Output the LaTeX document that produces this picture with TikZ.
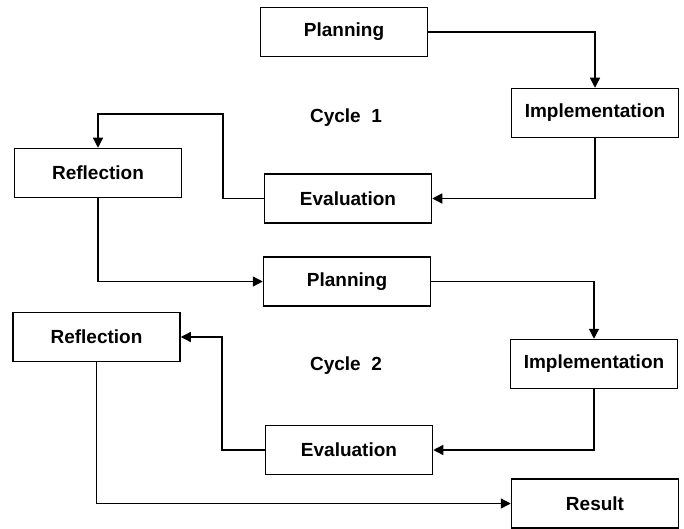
\documentclass[tikz,border=0pt]{standalone}
\usepackage{fontspec}
\setmainfont{Liberation Sans}
\usetikzlibrary{arrows.meta}
\begin{document}
\begin{tikzpicture}[x=1pt,y=-1pt,
  box/.style={draw=black,line width=1.5pt,minimum width=167pt,minimum height=49pt,inner sep=0pt,font=\fontsize{19}{21}\selectfont\bfseries},
  lbl/.style={font=\fontsize{19}{21}\selectfont\bfseries},
  arr/.style={line width=1.3pt,-{Triangle[length=10pt,width=10pt]}}]
\useasboundingbox (0,0) rectangle (684,529);
\node[box] (P1) at (344,32) {Planning};
\node[box] (I1) at (595,113) {Implementation};
\node[lbl] (C1) at (346,118) {Cycle\ \ 1};
\node[box] (R1) at (98,173) {Reflection};
\node[box] (E1) at (348,198.5) {Evaluation};
\node[box] (P2) at (347,281.5) {Planning};
\node[box] (R2) at (96.5,337) {Reflection};
\node[lbl] (C2) at (346,366) {Cycle\ \ 2};
\node[box] (I2) at (594,364) {Implementation};
\node[box] (E2) at (349,450) {Evaluation};
\node[box] (Res) at (595,503.5) {Result};
\coordinate (c1) at (223,114);
\coordinate (c2) at (222,337);
\draw[arr] (P1.east) -| (I1.north);
\draw[arr] (I1.south) |- (E1.east);
\draw[arr] (E1.west) -| (c1) -| (R1.north);
\draw[arr] (R1.south) |- (P2.west);
\draw[arr] (P2.east) -| (I2.north);
\draw[arr] (I2.south) |- (E2.east);
\draw[arr] (E2.west) -| (c2) -- (R2.east);
\draw[arr] (R2.south) |- (Res.west);
\end{tikzpicture}
\end{document}
